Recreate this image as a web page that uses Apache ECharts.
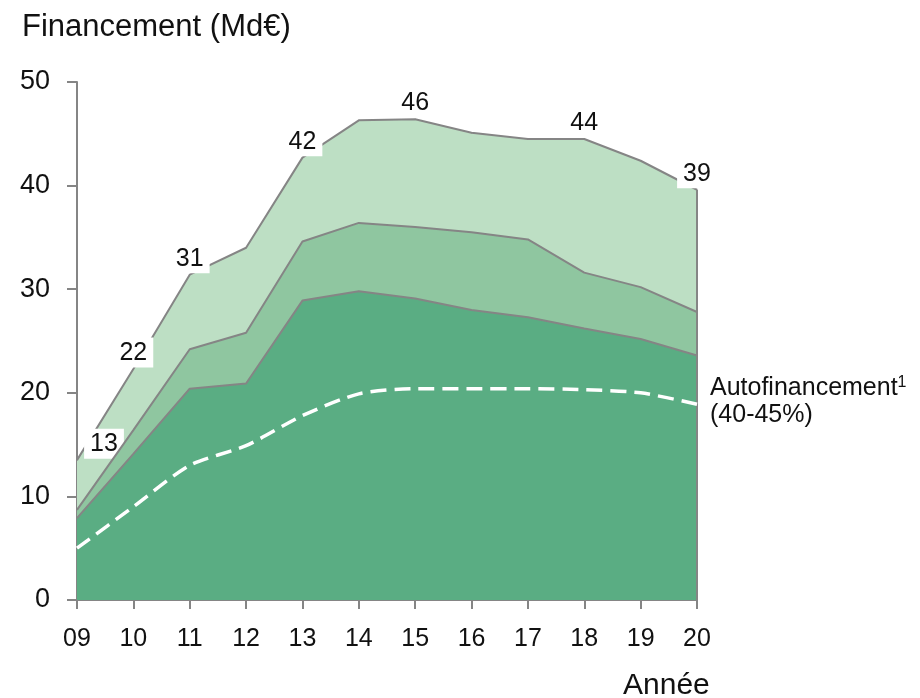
<!DOCTYPE html>
<html>
<head>
<meta charset="utf-8">
<script src="https://cdn.jsdelivr.net/npm/echarts@6/dist/echarts.min.js"></script>
<style>
  html, body { margin: 0; padding: 0; background: #fff; }
  #chart { width: 920px; height: 698px; }
</style>
</head>
<body>
<div id="chart"></div>
<script>
// années (axe x)
var years = ['09', '10', '11', '12', '13', '14', '15', '16', '17', '18', '19', '20'];
// niveaux cumulés (Md€)
var totalLevel  = [13.5, 22.3, 31.4, 34.0, 42.7, 46.3, 46.4, 45.1, 44.5, 44.5, 42.4, 39.6];
var middleLevel = [8.7, 16.4, 24.2, 25.8, 34.6, 36.4, 36.0, 35.5, 34.8, 31.6, 30.2, 27.8];
var bottomLevel = [7.9, 14.1, 20.4, 20.9, 28.9, 29.8, 29.1, 28.0, 27.3, 26.2, 25.2, 23.6];
// autofinancement (ligne pointillée)
var selfFinance = [5.0, 9.0, 13.0, 14.9, 17.8, 19.9, 20.4, 20.4, 20.4, 20.3, 20.0, 18.9];
// étiquettes au-dessus de la courbe totale
var totalLabels = ['13', '22', '31', '', '42', '', '46', '', '', '44', '', '39'];
var yTicks = [0, 10, 20, 30, 40, 50];

var chart = echarts.init(document.getElementById('chart'));
var font = 'Liberation Sans, Arial, sans-serif';
var edge = '#858585';

function areaSeries(name, values, color, z) {
    return {
        name: name,
        type: 'line',
        data: values,
        symbol: 'none',
        z: z,
        lineStyle: { color: edge, width: 2 },
        areaStyle: { color: color, opacity: 1 },
        animation: false
    };
}

var topSeries = areaSeries('total', totalLevel.map(function (v, i) {
    var item = { value: v };
    if (totalLabels[i]) {
        item.label = {
            show: true,
            formatter: totalLabels[i],
            position: 'top',
            distance: 1,
            fontSize: 25,
            fontFamily: font,
            color: '#111',
            backgroundColor: '#fff',
            padding: [3, 6, 2, 6]
        };
        if (i === 0) item.label.offset = [27, 0];
    }
    return item;
}), '#bddfc4', 2);
// symboles minuscules pour que les étiquettes s'affichent
topSeries.symbol = 'circle';
topSeries.symbolSize = 1;
topSeries.itemStyle = { color: edge };
topSeries.markLine = {
    silent: true,
    symbol: 'none',
    label: { show: false },
    lineStyle: { color: edge, width: 2, type: 'solid' },
    data: [[
        { coord: [years[years.length - 1], 0] },
        { coord: [years[years.length - 1], totalLevel[totalLevel.length - 1]] }
    ]]
};

var series = [
    topSeries,
    areaSeries('milieu', middleLevel, '#8fc6a0', 3),
    areaSeries('base', bottomLevel, '#5aad83', 4),
    {
        name: 'Autofinancement',
        type: 'line',
        data: selfFinance,
        symbol: 'none',
        smooth: 0.25,
        z: 6,
        animation: false,
        lineStyle: { color: '#fff', width: 3.5, type: [16, 8] },
        endLabel: {
            show: true,
            distance: 13,
            formatter: '{a|Autofinancement}{s|1}\n{a|(40-45%)}',
            rich: {
                a: { fontSize: 25, fontFamily: font, color: '#111', lineHeight: 27 },
                s: { fontSize: 16, fontFamily: font, color: '#111', verticalAlign: 'top', lineHeight: 27 }
            },
            offset: [0, -3]
        }
    }
];

var option = {
    backgroundColor: '#fff',
    grid: { left: 77, right: 223, top: 82, bottom: 98 },
    xAxis: {
        type: 'category',
        data: years,
        boundaryGap: false,
        axisLine: { lineStyle: { color: edge, width: 2 } },
        axisTick: { show: true, length: 9, lineStyle: { color: edge, width: 2 } },
        axisLabel: { color: '#111', fontSize: 25, fontFamily: font, margin: 27 }
    },
    yAxis: {
        type: 'value',
        min: yTicks[0],
        max: yTicks[yTicks.length - 1],
        interval: 10,
        axisLine: { show: true, lineStyle: { color: edge, width: 2 } },
        axisTick: { show: true, length: 10, lineStyle: { color: edge, width: 2 } },
        splitLine: { show: false },
        axisLabel: { color: '#111', fontSize: 27, fontFamily: font, margin: 27 }
    },
    graphic: [
        {
            type: 'text', x: 22, y: 27,
            style: { text: 'Financement (Md€)', fontSize: 31, fontFamily: font, fill: '#111', verticalAlign: 'middle' }
        },
        {
            type: 'text', x: 623, y: 686,
            style: { text: 'Année', fontSize: 30, fontFamily: font, fill: '#111', verticalAlign: 'middle' }
        }
    ],
    series: series
};

chart.setOption(option);
window.addEventListener('resize', function () {
    chart.resize();
});
</script>
</body>
</html>
